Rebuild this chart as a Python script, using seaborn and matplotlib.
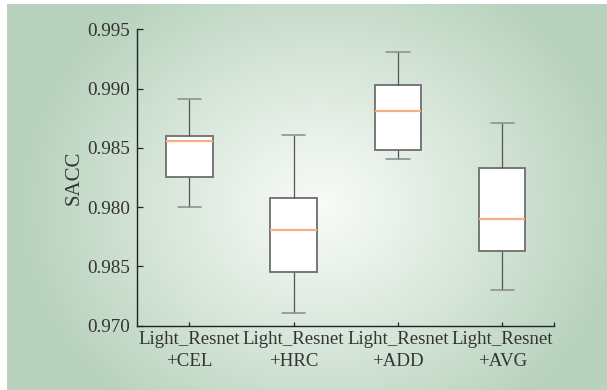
import numpy as np
import pandas as pd
import matplotlib
matplotlib.use("Agg")
import matplotlib.pyplot as plt
import seaborn as sns

# ---- data (five-number summaries) ----
categories = ["Light_Resnet\n+CEL", "Light_Resnet\n+HRC", "Light_Resnet\n+ADD", "Light_Resnet\n+AVG"]
cel_values = [0.9800, 0.98256, 0.98557, 0.98602, 0.98909]
hrc_values = [0.97105, 0.97453, 0.97804, 0.98079, 0.98608]
add_values = [0.98406, 0.98484, 0.98808, 0.99032, 0.99308]
avg_values = [0.97304, 0.97630, 0.97902, 0.98327, 0.98707]
ytick_values = [0.970, 0.975, 0.980, 0.985, 0.990, 0.995]
ytick_labels = ["0.970", "0.985", "0.980", "0.985", "0.990", "0.995"]
y_label = "SACC"

series = [cel_values, hrc_values, add_values, avg_values]
df = pd.DataFrame({
    "method": [c for c, vals in zip(categories, series) for _ in vals],
    "value": [v for vals in series for v in vals],
})

sns.set_style("white")
plt.rcParams["font.family"] = ["Liberation Serif", "DejaVu Serif"]

W, H = 607, 390
fig = plt.figure(figsize=(W / 100, H / 100), dpi=100)

# ---- radial gradient background ----
bg_ax = fig.add_axes([0, 0, 1, 1], zorder=-10)
yy, xx = np.mgrid[0:H, 0:W]
cx, cy = 320, 205
d = np.sqrt((xx - cx) ** 2 + ((yy - cy) * 1.15) ** 2)
t = np.clip(d / 300.0, 0, 1) ** 1.05
center = np.array([0.975, 0.985, 0.975])
edge = np.array([0.722, 0.825, 0.742])
img = center[None, None, :] * (1 - t[..., None]) + edge[None, None, :] * t[..., None]
img[:, :7, :] = 1.0
img[:4, :, :] = 1.0
bg_ax.imshow(img, aspect="auto", extent=[0, 1, 0, 1], interpolation="bilinear")
bg_ax.set_axis_off()

ax = fig.add_axes([137.3 / W, 1 - 325.7 / H, (554.3 - 137.3) / W, (325.7 - 29.3) / H])
ax.set_facecolor("none")

sns.boxplot(
    data=df, x="method", y="value", order=categories, ax=ax,
    color="white", saturation=1, width=0.445, whis=(0, 100),
    linecolor="#6f6f6f", linewidth=1.1,
    boxprops=dict(edgecolor="#777777", linewidth=1.4, facecolor="white"),
    whiskerprops=dict(color="#555555", linewidth=0.9),
    capprops=dict(color="#8a8a8a", linewidth=1.1),
    medianprops=dict(color="#f8ae80", linewidth=1.6),
    showfliers=False,
)

ax.set_xlim(-0.5, 3.5)
ax.set_ylim(0.970, 0.995)
ax.set_yticks(ytick_values)
ax.set_yticklabels(ytick_labels)
ax.set_xticks(range(len(categories)))
ax.set_xticklabels(categories, linespacing=1.4)
ax.set_xticks([3.5], minor=True)

for s in ["top", "right"]:
    ax.spines[s].set_visible(False)
for s in ["left", "bottom"]:
    ax.spines[s].set_color("#222222")
    ax.spines[s].set_linewidth(1.0)

ax.tick_params(axis="y", direction="in", length=4.5, width=0.9, color="#222222",
               labelsize=13.8, labelcolor="#333333", pad=5, left=True)
ax.tick_params(axis="x", which="both", direction="in", length=3.2, width=0.9, color="#222222",
               labelsize=13.6, labelcolor="#333333", pad=4, bottom=True)
ax.set_xlabel("")
ax.set_ylabel(y_label, fontsize=15, color="#333333")
ax.yaxis.set_label_coords(-0.128, 0.5)

fig.savefig("out.png", dpi=100)
